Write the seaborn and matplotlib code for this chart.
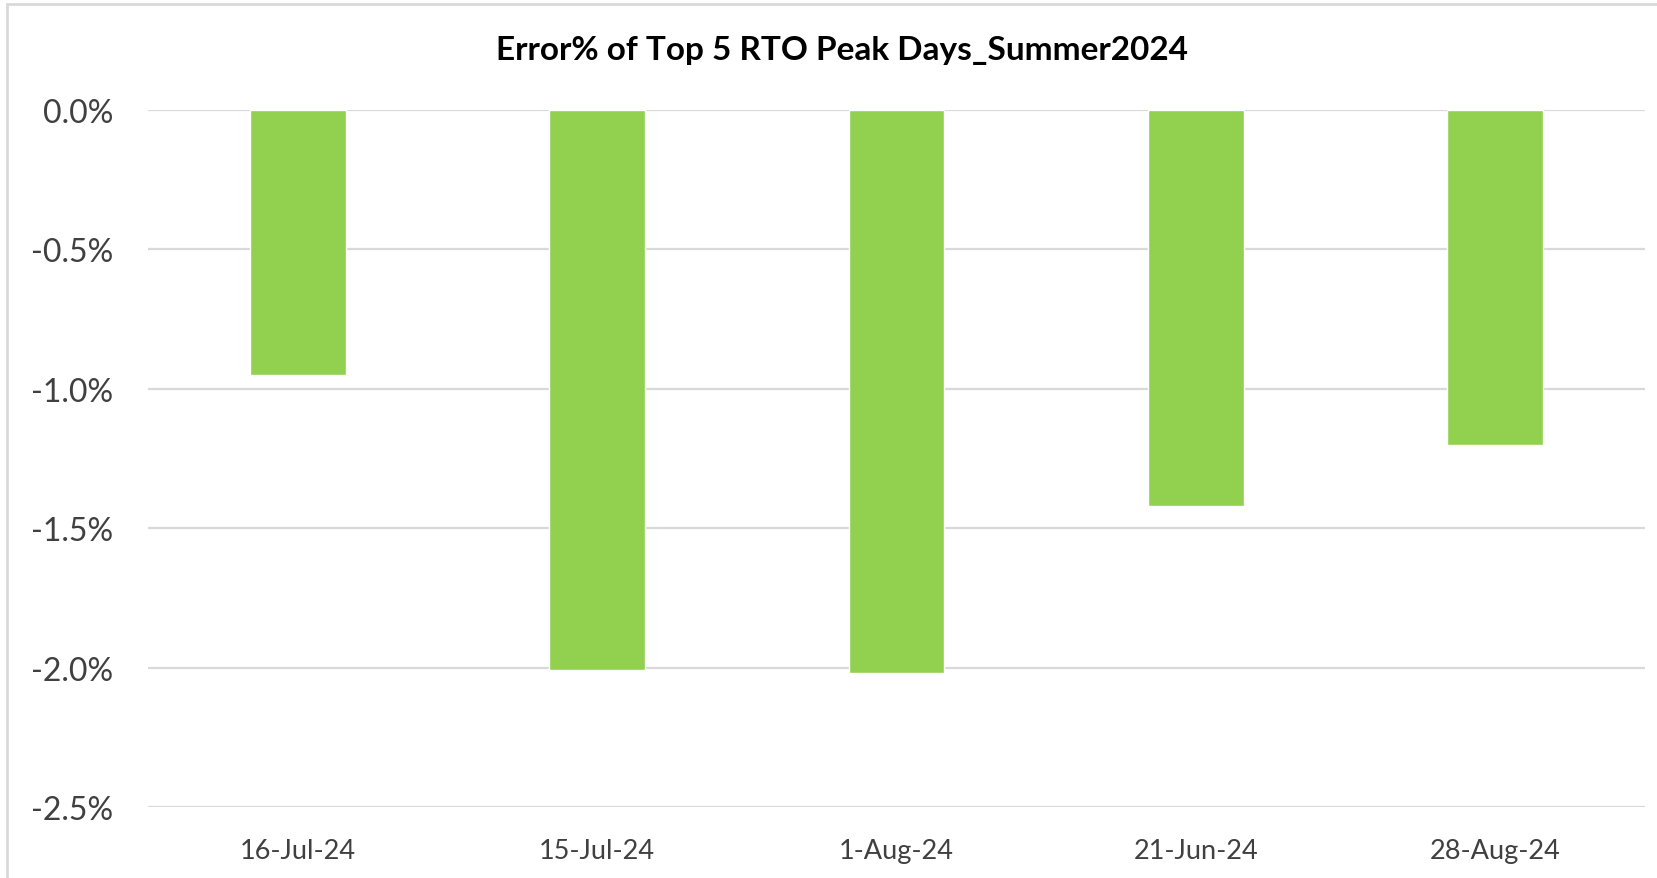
import seaborn as sns
import matplotlib.pyplot as plt
import pandas as pd
from matplotlib.ticker import PercentFormatter
from matplotlib.patches import Rectangle

# datos
dias = ['16-Jul-24', '15-Jul-24', '1-Aug-24', '21-Jun-24', '28-Aug-24']
error_pct = [-0.95, -2.01, -2.02, -1.42, -1.20]
y_ticks = [0.0, -0.5, -1.0, -1.5, -2.0, -2.5]

titulo = 'Error% of Top 5 RTO Peak Days_Summer2024'

sns.set_style('white')
plt.rcParams['font.family'] = ['Lato', 'DejaVu Sans']
plt.rcParams['axes.unicode_minus'] = False

df = pd.DataFrame({'dia': dias, 'error': error_pct})

fig = plt.figure(figsize=(16.57, 8.79), dpi=100)
ax = fig.add_axes([0.0893, 0.0808, 0.9035, 0.7929])

sns.barplot(data=df, x='dia', y='error', color='#92d050', saturation=1,
            width=0.32, ax=ax, zorder=3)

ax.set_ylim(-2.5, 0)
ax.set_yticks(y_ticks)
ax.yaxis.set_major_formatter(PercentFormatter(decimals=1))
ax.grid(axis='y', color='#d9d9d9', lw=1.6, zorder=0)
ax.set_axisbelow(True)
for s in ax.spines.values():
    s.set_visible(False)
ax.set_xlabel('')
ax.set_ylabel('')
ax.tick_params(axis='y', length=0, pad=25, labelsize=23, labelcolor='#404040')
ax.tick_params(axis='x', length=0, pad=22, labelsize=19.5, labelcolor='#404040')

fig.text(0.508, 0.943, titulo, ha='center', va='center', fontsize=24,
         fontweight='bold', color='#000000')

# marco del grafico
fig.patches.append(Rectangle((7 / 1657, -0.05), 1.1, 1 - 5 / 879 + 0.05,
                             transform=fig.transFigure, fill=False,
                             edgecolor='#d9d9d9', lw=2))

fig.savefig('out.png', dpi=100)
